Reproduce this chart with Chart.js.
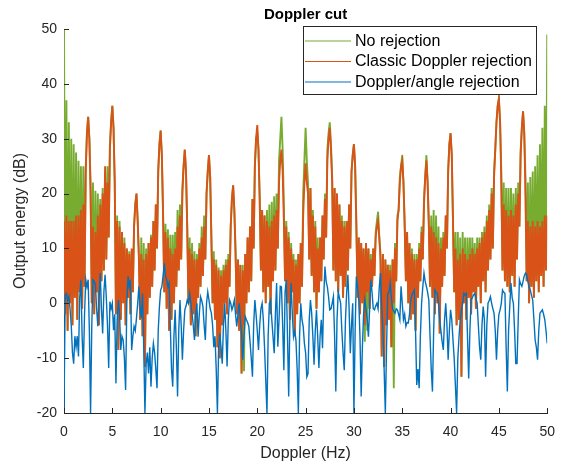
<!DOCTYPE html>
<html><head><meta charset="utf-8">
<script src="https://cdn.jsdelivr.net/npm/chart.js@4.4.0/dist/chart.umd.min.js"></script>
<style>html,body{margin:0;padding:0;background:#fff;}#wrap{width:566px;height:464px;}</style>
</head><body><div id="wrap"><canvas id="c" width="566" height="464"></canvas></div>
<script>
// Doppler frequency grid (Hz): samples every 0.125 Hz from 0 to 50
const freqStep = 0.125;
const freqCount = 401;
const xTicks = [0,5,10,15,20,25,30,35,40,45,50];
const yTicks = [-20,-10,0,10,20,30,40,50];
const seriesNames = ['No rejection','Classic Doppler rejection','Doppler/angle rejection'];

// No rejection (dB)
const noRejection = [
50,-2,37,-5,33,0,30,-4,
29,1,27.5,-3,26,2,25,-1,
25,3,25,31,34,30,22,0,
22,-2,20.5,2,20,-4,19,4,
21,6,24,8,25,12,29,33,
36,32,22,-2,16,-8.5,15,-3,
13,0,12,-4,10,1,9.5,-2,
9.5,2,14,18,20,15,9,-3,
12,-6,11,-11.6,10,-2,11,1,
12.5,3,15,6,18,10,24,29,
31.5,27,17,2,14.5,-1,13.5,-5,
12.5,-3,12.5,0,13,3,17,6,
18,8,21,25,28,24,14,0,
12,-4,11,-2,9.5,-6,9,1,
11,3,14,5,16,8,20,24,
27,23,12,0,9.5,-3,8,-8,
6.5,-10,6,-4,7,0,8,-2,
9,3,14,19,21.5,17,10,-2,
8,-5,7,-12.8,7,-12.4,9,0,
12,2,14,4,19,10,25,30,
31,28,19,6,17,2,16,0,
17,3,18,-2,18.5,4,19.5,6,
20,10,26,30,34,28,18,4,
15,0,13,-3,11,2,9,-6,
8,-2,9,0,11,3,20,26,
32,26,22,8,21,5,17,2,
15,-1,12,2,12,4,16,8,
20,12,28,31,33,29,23,6,
21,4,20,2,18,5,16,1,
15,3,15,6,18,10,24,27,
29,25,15,1,12,-2,11,0,
10,-7,11,-5,10,-1,9,3,
10,5,13,15,16.7,12,9,-9.7,
9,-11.6,8,-4,7,-3,7,-8,
8,-15.5,11,4,16,17,23,25,
27,22,15,4,13,0,11,-3,
10,-2,9,-5,9,1,11,4,
14,8,19,23,27,22,15,3,
16,1,17,-2,16,0,14,-5.5,
12,3,13,5,16,10,24,29,
31,27,15,2,13,-4,13,-3,
12,-13.4,13,0,12,-3,12,1,
12,-2,12,2,11,-1,12,3,
12,0,13,4,14,2,16,6,
18,8,21,10,24,28,33,36,
37.3,33,24,6,22,4,21,3,
21,2,21,5,20,3,21,8,
22,14,28,32,35,31,23,4,
22,0,23,3,24,1,25,4,
27,2,29,5,32,3,36,6,
49];

// Classic Doppler rejection (dB)
const classicRejection = [
15,-2,16,-5,15,0,15,-4,
15,1,16,-3,16,2,17,-1,
18,3,24,31,34,30,20,0,
14,-2,13,2,16,-4,18,4,
20,6,25,8,22,12,28,33,
36,32,22,-2,15,-8.5,14,-3,
13,0,11,-4,10,1,9,-2,
10,2,14,18,20,15,8,-3,
9,-6,8,-11.6,9,-2,11,1,
12,3,15,6,18,10,24,29,
31.5,27,16,2,13,-1,12,-5,
10,-3,9,0,10,3,14,6,
16,8,20,25,28,24,14,0,
10,-4,9,-2,8,-6,8,1,
10,3,12,5,14,8,20,24,
27,23,12,0,8,-3,7,-8,
6,-10,5,-4,6,0,7,-2,
8,3,14,19,21.5,17,9,-2,
8,-5,7,-12.8,6,-4,9,0,
12,2,14,4,19,10,25,30,
32.5,28,19,6,17,2,16,0,
15,3,14,-2,15,4,16,6,
17,10,22,26,28,24,15,4,
14,0,12,-3,10,2,8,-6,
7,-2,9,0,11,3,16,22,
25.5,22,20,8,21,5,16,2,
14,-1,10,2,12,4,16,8,
19,12,26,30,32,28,22,6,
21,4,20,2,18,5,15,1,
14,3,15,6,18,10,24,27,
29,25,14,1,12,-2,11,0,
10,-4,11,2,10,-1,8,3,
10,5,12,14,15,12,8,-9.7,
9,-11.6,8,-4,7,-3,6,-8,
8,0,10,4,15,17,22,25,
26,22,14,4,13,0,11,-3,
9,-2,8,-5,8,1,10,4,
13,8,18,23,26,22,14,3,
14,1,13,-2,12,0,11,-5.5,
10,3,12,5,16,10,24,29,
31,27,15,2,10,-4,8,-3,
9,-13.4,10,0,9,-3,8,1,
9,-2,10,2,9,-1,10,3,
11,0,12,4,13,2,15,6,
17,8,20,10,23,28,33,36,
37.3,33,22,6,18,4,17,3,
16,2,17,5,16,3,18,8,
20,14,27,32,35,31,20,4,
15,0,14,3,15,1,14,4,
15,2,14,5,15,3,16,6,
16];

// Doppler/angle rejection (dB)
const angleRejection = [
-20,1.5,1.8,0.5,1.2,-1,-4,-9,
-11,-6,-8,-6,-9.7,1,4.3,-6,
-11.8,-2,4.3,3,4.3,-5,-20,-4,
4.3,4,3.4,-1,-4.2,1,5.5,-1,
-5.5,2,5.2,1.2,-4,-11.8,0.3,-1,
0,-4.9,-2,-14.6,-3,0.6,-2,-8.5,
-6,-6.7,-10,-15.8,0,4.9,3,4.3,
-8.5,-6,-4.2,-5,-2.7,0,3.1,-1,
-2.7,1.8,-8,-20,-11,-9,-12.8,-8,
-15.2,-10,-7.3,-9,-12,-15.5,-5,-0.6,
2.4,3,5,7.3,5,4.3,3,3.7,
-4,-12,-15.2,-6,-1.2,-8,-17,-5,
0.6,-4,-10.3,-5,-1.2,-0.5,0.6,0,
1.8,0,-1.8,-4,-6.7,-2,0,-6.1,
-2,1.2,0.5,-0.6,-4,-6.7,0,2.1,
0.6,-1,-1.8,-4,-8,-6,-12,-20,
-8,-5.5,-8,-11,-4,0,-5,-11.5,
-3,0.6,0,-1.2,-0.5,0.6,-2,-4.2,
-2,0,-3,-5.5,-10.3,-6,-2.4,-3,
-3.5,-4.2,-7,-10,-13.4,-4,0.6,-2,
-5,-8.5,-4,-1,0,-3,-8,-14,
-20,-6,0,0.6,-3,-6,-9.1,-2,
3.7,-7.9,-3,3.1,3,-4,-12.2,2,
4.3,-6,-17,-3,3.7,-2,-6.1,-5,
-6.7,-12,-20,-6,0,-3,-4.2,-7.3,
-9,-13.4,-12.8,-3,0.6,-1.8,-6,-11.2,
-5,-1.2,-6,-11.8,-6,-3,-8.2,1,
6.7,4,3,1.2,-1.2,-1,0,1.2,
-6,-16.1,-3,2.1,1,0,-5,-9,
-12.2,-3,2,5.2,-1,-9.1,-4,0,
-20,-5,4.9,3,0.6,-6,-17,-8,
-2,0.6,-1,-3,-6.1,-1,4.3,2,
-1,-1.2,-0.5,0,-1,3,5.5,-0.6,
-5,-12,-20,-8,1.8,2,3.7,1,
-1,-1.5,-1.8,-1,-1.2,-2,-3,3.1,
0,-3,-2,-4.2,-3.5,-3.6,-2,0.6,
1.5,2,2.4,-5,-14.9,-12,-15.5,-6,
0,3,5.5,4,3.1,2,0.6,-6,
-12,-16.1,-5,2.4,2,1.8,0,-3,
-5,-7,-8.5,-3,0,-4,-10.3,-5,
-1.2,-3,-6.7,-10,-15,-20,-10,-6.1,
-3,-1.2,0,1.8,1.5,1.8,-6,-13.7,
-5,0.6,1,1.5,1.8,1,0,-4,
-8,-10.3,-4,-0.6,-3,-13.4,-4,0,
0.5,1.2,0,-1,-1.8,-5,-10.3,-5,
-2,-1.2,0,2.4,2,1.8,-8,-16.1,
-5,-0.6,3.7,1,0,-5,-11,-11,
-3,4.3,3.5,3.1,4,5,5.5,5.2,
4,3,2.4,1.5,0.6,-3,-6.7,-8,
-10.3,-5,-1.8,-1.5,-1.2,-2,-3,-5,
-7.3];

const freq = Array.from({length: freqCount}, (_, i) => i * freqStep);
const toXY = arr => arr.map((v, i) => ({x: freq[i], y: v}));

const COLORS = ['#77AC30', '#D95319', '#0072BD'];
const WIDTHS = [1.9, 1.9, 1.4];
const AX = '#262626';
const FONT = "'Liberation Sans', Arial, Helvetica, sans-serif";
Chart.defaults.font.family = FONT;

const decor = {
  id: 'decor',
  afterDraw(chart) {
    const {ctx, chartArea: a, scales: {x, y}} = chart;
    ctx.save();
    // inward tick marks
    ctx.strokeStyle = AX; ctx.lineWidth = 1;
    ctx.beginPath();
    xTicks.forEach(v => { const px = Math.round(x.getPixelForValue(v)) + 0.5; ctx.moveTo(px, a.bottom); ctx.lineTo(px, a.bottom - 5); });
    yTicks.forEach(v => { const py = Math.round(y.getPixelForValue(v)) + 0.5; ctx.moveTo(a.left, py); ctx.lineTo(a.left + 5, py); });
    ctx.stroke();
    // title
    ctx.fillStyle = '#000';
    ctx.font = 'bold 15px ' + FONT;
    ctx.textAlign = 'center'; ctx.textBaseline = 'alphabetic';
    ctx.fillText('Doppler cut', (a.left + a.right) / 2, 19);
    // legend box
    const bx = 303.5, by = 26.5, bw = 233, bh = 68;
    ctx.fillStyle = '#fff';
    ctx.fillRect(bx, by, bw, bh);
    ctx.strokeStyle = AX; ctx.lineWidth = 1;
    ctx.strokeRect(bx, by, bw, bh);
    const rows = [40.5, 61, 81.5];
    ctx.font = '16px ' + FONT;
    ctx.textAlign = 'left'; ctx.textBaseline = 'middle';
    seriesNames.forEach((name, i) => {
      ctx.strokeStyle = COLORS[i]; ctx.lineWidth = 1.2;
      ctx.beginPath(); ctx.moveTo(305, rows[i] + 0.5); ctx.lineTo(351, rows[i] + 0.5); ctx.stroke();
      ctx.fillStyle = '#000';
      ctx.fillText(name, 355, rows[i] + 1);
    });
    ctx.restore();
  }
};

const seriesData = [noRejection, classicRejection, angleRejection];
new Chart(document.getElementById('c'), {
  type: 'line',
  data: {
    datasets: seriesData.map((arr, i) => ({
      label: seriesNames[i],
      data: toXY(arr),
      borderColor: COLORS[i],
      backgroundColor: COLORS[i],
      borderWidth: WIDTHS[i],
      borderJoinStyle: 'miter',
      pointRadius: 0,
      tension: 0,
      fill: false,
      order: 3 - i
    }))
  },
  options: {
    responsive: false,
    animation: false,
    events: [],
    layout: {padding: {top: 29, right: 16, left: 0, bottom: 0}},
    plugins: {legend: {display: false}, title: {display: false}, tooltip: {enabled: false}},
    scales: {
      x: {
        type: 'linear', min: 0, max: 50,
        afterBuildTicks: s => { s.ticks = xTicks.map(v => ({value: v})); },
        afterFit: s => { s.height = 51; },
        grid: {display: false, drawTicks: false},
        border: {display: true, color: AX, width: 1},
        ticks: {color: AX, font: {size: 14}, padding: 11, maxRotation: 0, autoSkip: false},
        title: {display: true, text: 'Doppler (Hz)', color: AX, font: {size: 16}, padding: {top: 0, bottom: 1}}
      },
      y: {
        type: 'linear', min: -20, max: 50,
        afterBuildTicks: s => { s.ticks = yTicks.map(v => ({value: v})); },
        afterFit: s => { s.width = 64; },
        grid: {display: false, drawTicks: false},
        border: {display: true, color: AX, width: 1},
        ticks: {color: AX, font: {size: 14}, padding: 7, autoSkip: false},
        title: {display: true, text: 'Output energy (dB)', color: AX, font: {size: 16}, padding: {top: 11, bottom: 0}}
      }
    }
  },
  plugins: [decor]
});
</script>
</body></html>
